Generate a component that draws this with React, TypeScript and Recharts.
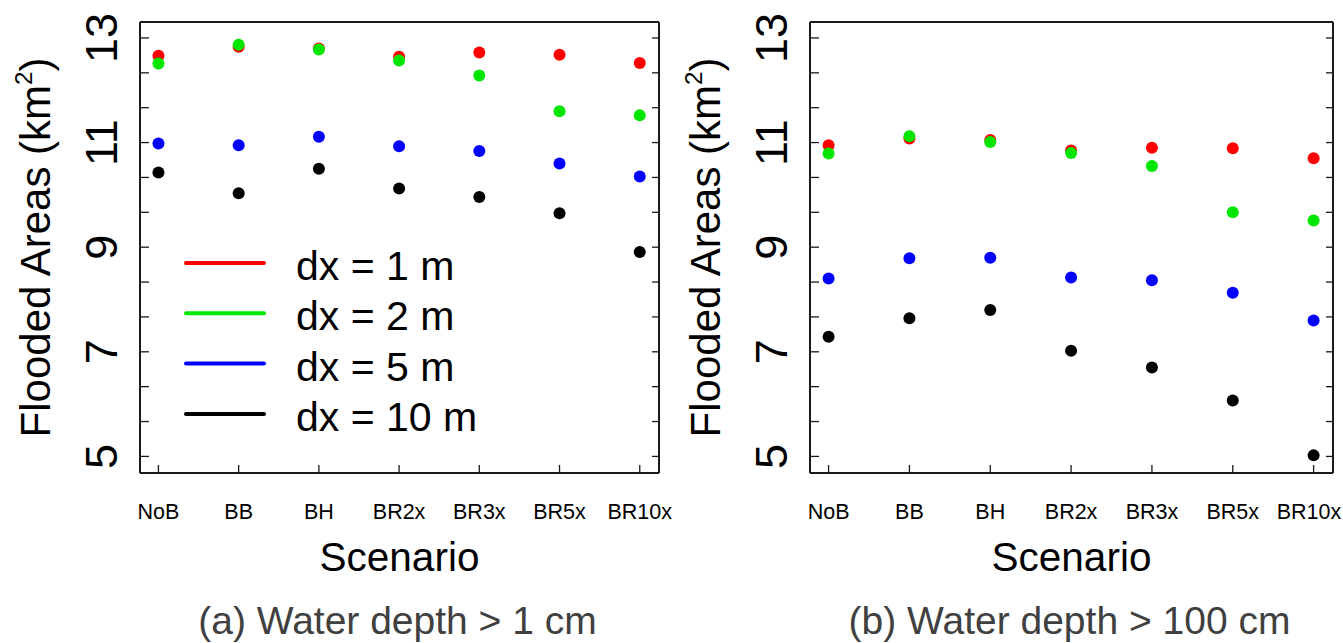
import React from 'react';
import { ScatterChart, Scatter, XAxis, YAxis, Legend } from 'recharts';

const FONT = '"Liberation Sans", Arial, Helvetica, sans-serif';

const categories = ['NoB', 'BB', 'BH', 'BR2x', 'BR3x', 'BR5x', 'BR10x'];
const seriesNames = ['dx = 1 m', 'dx = 2 m', 'dx = 5 m', 'dx = 10 m'];
const seriesColors = ['#ff0000', '#00e600', '#0000ff', '#000000'];

// Panel (a): water depth > 1 cm
const a_dx1 = [12.66, 12.83, 12.8, 12.64, 12.72, 12.68, 12.52];
const a_dx2 = [12.51, 12.87, 12.78, 12.57, 12.28, 11.6, 11.52];
const a_dx5 = [10.98, 10.95, 11.11, 10.93, 10.84, 10.6, 10.35];
const a_dx10 = [10.43, 10.03, 10.5, 10.12, 9.96, 9.65, 8.91];

// Panel (b): water depth > 100 cm
const b_dx1 = [10.95, 11.08, 11.05, 10.85, 10.9, 10.89, 10.7];
const b_dx2 = [10.79, 11.12, 11.01, 10.8, 10.55, 9.67, 9.51];
const b_dx5 = [8.4, 8.79, 8.8, 8.42, 8.37, 8.13, 7.6];
const b_dx10 = [7.29, 7.64, 7.8, 7.02, 6.7, 6.07, 5.02];

const captionA = '(a) Water depth > 1 cm';
const captionB = '(b) Water depth > 100 cm';
const xTitle = 'Scenario';

const yMajorTicks = [5, 7, 9, 11, 13];
const minorPerInterval = 3;
const yTicks: number[] = [];
yMajorTicks.forEach((t, i) => {
  yTicks.push(t);
  if (i < yMajorTicks.length - 1) {
    const step = (yMajorTicks[i + 1] - t) / minorPerInterval;
    for (let k = 1; k < minorPerInterval; k++) yTicks.push(t + k * step);
  }
});
const xTicks = categories.map((_, i) => i);

const X_DOMAIN: [number, number] = [-0.23, 6.24];
const Y_DOMAIN: [number, number] = [4.683, 13.305];
const AXIS_STROKE = '#1a1a1a';

const makeXTick = (chartLeft: number) => (props: any) => {
  const { x, y, payload } = props;
  const label = categories[payload.value];
  const approxHalf = label.length * 6.4;
  const pageRight = 1343 - chartLeft - 2;
  const tx = Math.min(x, pageRight - approxHalf);
  return (
    <g>
      <line x1={x} y1={y} x2={x} y2={y - 8} stroke={AXIS_STROKE} strokeWidth={1.3} />
      <text x={tx} y={y + 46} textAnchor="middle" fontSize={21.5} fontFamily={FONT} fill="#000">
        {label}
      </text>
    </g>
  );
};

const isMajor = (v: number) => yMajorTicks.some((m) => Math.abs(m - v) < 1e-6);

const YTickLeft = (props: any) => {
  const { x, y, payload } = props;
  const major = isMajor(payload.value);
  return (
    <g>
      <line x1={x} y1={y} x2={x + 9} y2={y} stroke={AXIS_STROKE} strokeWidth={1.3} />
      {major && (
        <text
          x={x - 23}
          y={y}
          transform={`rotate(-90, ${x - 23}, ${y})`}
          textAnchor="middle"
          fontSize={45}
          fontFamily={FONT}
          fill="#000"
        >
          {Math.round(payload.value)}
        </text>
      )}
    </g>
  );
};

const YTickRight = (props: any) => {
  const { x, y } = props;
  return <line x1={x} y1={y} x2={x - 7} y2={y} stroke={AXIS_STROKE} strokeWidth={1.3} />;
};

const makeXLabel = (caption: string) => (props: any) => {
  const vb = props.viewBox || {};
  const cx = vb.x + vb.width / 2;
  return (
    <g>
      <text x={cx} y={vb.y + 98} textAnchor="middle" fontSize={40.5} fontFamily={FONT} fill="#000">
        {xTitle}
      </text>
      <text x={cx - 2} y={vb.y + 161} textAnchor="middle" fontSize={39} fontFamily={FONT} fill="#404040">
        {caption}
      </text>
    </g>
  );
};

const YLabel = (props: any) => {
  const vb = props.viewBox || {};
  const x = vb.x + 50;
  const y = vb.y + vb.height / 2;
  return (
    <text
      x={x}
      y={y}
      transform={`rotate(-90, ${x}, ${y})`}
      textAnchor="middle"
      fontSize={42}
      fontFamily={FONT}
      fill="#000"
    >
      Flooded Areas (km
      <tspan dy={-18} fontSize={24}>2</tspan>
      <tspan dy={18}>)</tspan>
    </text>
  );
};

const LegendContent = (props: any) => {
  const payload = props.payload && props.payload.length ? props.payload : seriesNames.map((n, i) => ({ value: n, color: seriesColors[i] }));
  return (
    <svg width={320} height={210} style={{ display: 'block', overflow: 'visible' }}>
      {payload.map((p: any, i: number) => {
        const y = 33 + i * 50.3;
        const name = seriesNames[i] ?? p.value;
        const color = seriesColors[i] ?? p.color;
        return (
          <g key={name}>
            <line x1={8} y1={y} x2={86} y2={y} stroke={color} strokeWidth={4} strokeLinecap="round" />
            <text x={118} y={y + 17} fontSize={41} fontFamily={FONT} fill="#000">
              {name}
            </text>
          </g>
        );
      })}
    </svg>
  );
};

type PanelProps = {
  left: number;
  width: number;
  marginRight: number;
  caption: string;
  series: number[][];
  showLegend: boolean;
};

const Panel = ({ left, width, marginRight, caption, series, showLegend }: PanelProps) => {
  const data = series.map((vals) => vals.map((v, i) => ({ x: i, y: v })));
  const XTick = makeXTick(left);
  return (
    <div style={{ position: 'absolute', left, top: 0 }}>
      <ScatterChart width={width} height={643} margin={{ top: 21, right: marginRight, bottom: 110, left: 0 }}>
        <XAxis
          xAxisId="b"
          dataKey="x"
          type="number"
          orientation="bottom"
          domain={X_DOMAIN}
          ticks={xTicks}
          interval={0}
          allowDataOverflow
          height={60}
          tickSize={0}
          tickMargin={0}
          tickLine={false}
          axisLine={{ stroke: AXIS_STROKE, strokeWidth: 2 }}
          tick={<XTick />}
          label={{ content: makeXLabel(caption) }}
        />
        <XAxis
          xAxisId="t"
          type="number"
          orientation="top"
          domain={X_DOMAIN}
          allowDataOverflow
          height={1}
          tick={false}
          tickLine={false}
          axisLine={{ stroke: AXIS_STROKE, strokeWidth: 2 }}
        />
        <YAxis
          yAxisId="l"
          dataKey="y"
          type="number"
          orientation="left"
          domain={Y_DOMAIN}
          ticks={yTicks}
          interval={0}
          allowDataOverflow
          width={140}
          tickSize={0}
          tickMargin={0}
          tickLine={false}
          axisLine={{ stroke: AXIS_STROKE, strokeWidth: 2 }}
          tick={<YTickLeft />}
          label={{ content: YLabel }}
        />
        <YAxis
          yAxisId="r"
          type="number"
          orientation="right"
          domain={Y_DOMAIN}
          ticks={yTicks}
          interval={0}
          allowDataOverflow
          width={1}
          tickSize={0}
          tickMargin={0}
          tickLine={false}
          axisLine={{ stroke: AXIS_STROKE, strokeWidth: 2 }}
          tick={<YTickRight />}
        />
        {data.map((d, k) => (
          <Scatter
            key={seriesNames[k]}
            name={seriesNames[k]}
            xAxisId="b"
            yAxisId="l"
            data={d}
            fill={seriesColors[k]}
            isAnimationActive={false}
            shape={(p: any) => <circle cx={p.cx} cy={p.cy} r={6} fill={seriesColors[k]} />}
          />
        ))}
        {showLegend && (
          <Legend
            layout="vertical"
            align="center"
            verticalAlign="middle"
            content={<LegendContent />}
            wrapperStyle={{ position: 'absolute', left: 178, top: 230, width: 320, height: 210 }}
          />
        )}
      </ScatterChart>
    </div>
  );
};

export default function App() {
  return (
    <div style={{ position: 'absolute', left: 0, top: 0, width: 1343, height: 643, background: '#fff' }}>
      <Panel left={0} width={672} marginRight={12} caption={captionA} series={[a_dx1, a_dx2, a_dx5, a_dx10]} showLegend />
      <Panel left={670} width={673} marginRight={9} caption={captionB} series={[b_dx1, b_dx2, b_dx5, b_dx10]} showLegend={false} />
    </div>
  );
}
